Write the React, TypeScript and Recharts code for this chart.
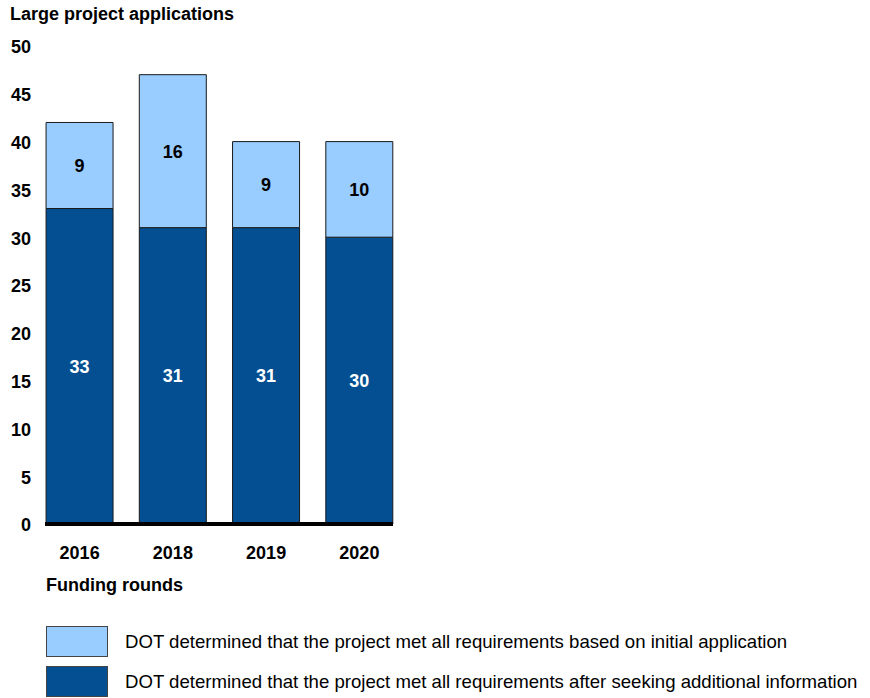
import { BarChart, Bar, XAxis, YAxis, LabelList } from 'recharts';

const rounds = ['2016', '2018', '2019', '2020'];
const afterInfo = [33, 31, 31, 30];
const initialApp = [9, 16, 9, 10];
const yTicks = [0, 5, 10, 15, 20, 25, 30, 35, 40, 45, 50];

const seriesNames = [
  'DOT determined that the project met all requirements based on initial application',
  'DOT determined that the project met all requirements after seeking additional information',
];

const LIGHT = '#99CCFF';
const DARK = '#034F91';
const FONT = '"Liberation Sans", Arial, sans-serif';

const data = rounds.map((r, i) => ({ round: r, after: afterInfo[i], initial: initialApp[i] }));

const App = () => {
  return (
    <div style={{ position: 'absolute', left: 0, top: 0, width: 870, height: 698, fontFamily: FONT, background: '#fff' }}>
      <div style={{ position: 'absolute', left: 10, top: 4, fontSize: 18, fontWeight: 'bold' }}>
        Large project applications
      </div>
      <BarChart
        width={870}
        height={600}
        data={data}
        margin={{ top: 46, right: 477, bottom: 36, left: 0 }}
        barCategoryGap="14%"
      >
        <YAxis
          width={45}
          domain={[0, 50]}
          ticks={yTicks}
          axisLine={false}
          tickLine={false}
          tickSize={0}
          tickMargin={14}
          tick={{ fill: '#000', fontSize: 18, fontWeight: 'bold', fontFamily: FONT, dy: 1 }}
        />
        <XAxis
          dataKey="round"
          height={40}
          padding={{ left: -12, right: -13 }}
          axisLine={{ stroke: '#000', strokeWidth: 4 }}
          tickLine={false}
          tickSize={0}
          tickMargin={22}
          tick={{ fill: '#000', fontSize: 18, fontWeight: 'bold', fontFamily: FONT }}
        />
        <Bar dataKey="after" stackId="a" fill={DARK} stroke="#1a1a1a" strokeWidth={1} isAnimationActive={false}>
          <LabelList dataKey="after" position="center" fill="#fff" fontSize={18} fontWeight="bold" fontFamily={FONT} />
        </Bar>
        <Bar dataKey="initial" stackId="a" fill={LIGHT} stroke="#1a1a1a" strokeWidth={1} isAnimationActive={false}>
          <LabelList dataKey="initial" position="center" fill="#000" fontSize={18} fontWeight="bold" fontFamily={FONT} />
        </Bar>
      </BarChart>
      <div style={{ position: 'absolute', left: 46, top: 575, fontSize: 18, fontWeight: 'bold' }}>
        Funding rounds
      </div>
      {[LIGHT, DARK].map((c, i) => (
        <div key={i} style={{ position: 'absolute', left: 46, top: 626 + i * 40, display: 'flex', alignItems: 'center' }}>
          <div style={{ width: 62, height: 31, background: c, border: '1px solid #444', boxSizing: 'border-box' }} />
          <span style={{ marginLeft: 17, fontSize: 18.6 }}>{seriesNames[i]}</span>
        </div>
      ))}
    </div>
  );
};

export default App;
